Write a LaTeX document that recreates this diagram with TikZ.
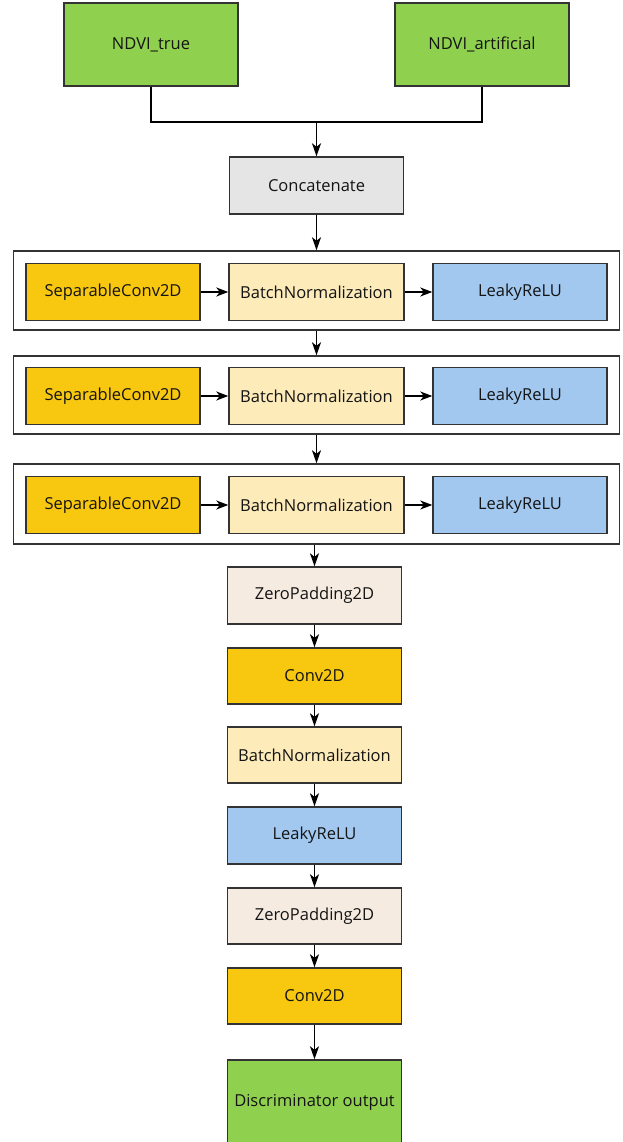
\documentclass[tikz,border=0pt]{standalone}
\usepackage{fontspec}
\setmainfont{Open Sans}
\usetikzlibrary{arrows.meta,positioning}
\definecolor{cgreen}{HTML}{8FD14F}
\definecolor{cgold}{HTML}{F8C70F}
\definecolor{cbn}{HTML}{FDEBB9}
\definecolor{cblue}{HTML}{A2C8F0}
\definecolor{cgray}{HTML}{E5E5E5}
\definecolor{czp}{HTML}{F6EBE1}
\definecolor{cline}{HTML}{333333}
\tikzset{
  blk/.style={draw=cline, line width=1.4pt, minimum width=174pt, minimum height=57pt, inner sep=0pt, font=\fontsize{16.5}{18}\selectfont, text=black!92},
  frm/.style={draw=cline, line width=1.5pt, minimum width=606pt, inner sep=0pt},
  arr/.style={-{Stealth[length=13pt,width=9pt,inset=3.5pt]}, line width=1.5pt, black},
  sarr/.style={-{Stealth[length=12pt,width=9pt,inset=3.5pt]}, line width=1.5pt, black}
}
\begin{document}
\begin{tikzpicture}[x=1pt,y=-1pt]
\useasboundingbox (0,0) rectangle (623,1142);
% inputs
\node[blk, fill=cgreen, minimum height=83pt] (t1) at (151,44.5) {NDVI\_true};
\node[blk, fill=cgreen, minimum height=83pt] (t2) at (482,44.5) {NDVI\_artificial};
\node[blk, fill=cgray] (cat) at (316.5,185.5) {Concatenate};
\coordinate (j) at (316.5,122);
\draw[line width=1.5pt] (t1.south) |- (j) -| (t2.south);
\draw[arr] (j) -- (cat.north);
% frames
\node[frm, minimum height=79pt] (f1) at (316.5,290.5) {};
\node[frm, minimum height=78pt] (f2) at (316.5,395) {};
\node[frm, minimum height=80pt] (f3) at (316.5,504) {};
% rows
\foreach \r/\y in {1/292,2/396,3/505}{
  \node[blk, fill=cgold] (s\r) at (113,\y) {SeparableConv2D};
  \node[blk, fill=cbn, minimum width=175pt] (b\r) at (316.5,\y) {BatchNormalization};
  \node[blk, fill=cblue] (l\r) at (520,\y) {LeakyReLU};
  \draw[sarr] (s\r) -- (b\r);
  \draw[sarr] (b\r) -- (l\r);
}
\draw[arr] (cat.south) -- (f1.north);
\draw[arr] (f1.south) -- (f2.north);
\draw[arr] (f2.south) -- (f3.north);
% tail
\node[blk, fill=czp] (zp1) at (314.5,595.5) {ZeroPadding2D};
\node[blk, fill=cgold, minimum height=56pt] (cv1) at (314.5,676) {Conv2D};
\node[blk, fill=cbn, minimum height=56pt] (bn) at (314.5,755) {BatchNormalization};
\node[blk, fill=cblue] (lr) at (314.5,835.5) {LeakyReLU};
\node[blk, fill=czp, minimum height=56pt] (zp2) at (314.5,916) {ZeroPadding2D};
\node[blk, fill=cgold, minimum height=56pt] (cv2) at (314.5,996) {Conv2D};
\node[blk, fill=cgreen, minimum height=84pt] (disc) at (314.5,1102) {Discriminator output};
\draw[arr] (f3.south -| zp1.north) -- (zp1.north);
\draw[arr] (zp1) -- (cv1);
\draw[arr] (cv1) -- (bn);
\draw[arr] (bn) -- (lr);
\draw[arr] (lr) -- (zp2);
\draw[arr] (zp2) -- (cv2);
\draw[arr] (cv2) -- (disc);
\end{tikzpicture}
\end{document}
